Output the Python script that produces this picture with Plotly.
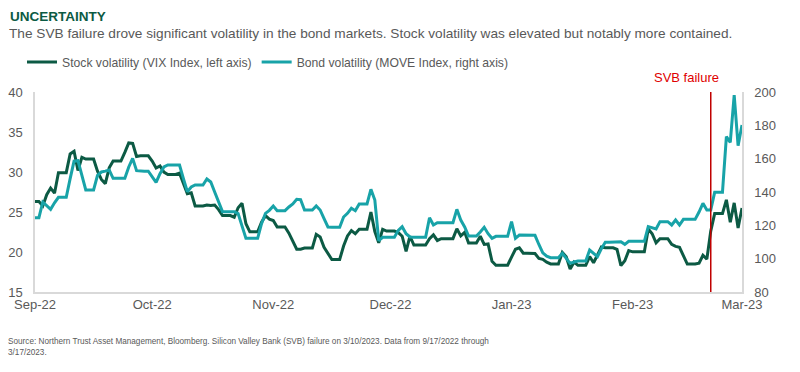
import pandas as pd
import plotly.graph_objects as go

# Calendar days 9/17/2022 (Sat) .. 3/17/2023 (Fri); each row is one week Sat..Fri
start_date = "2022-09-17"
end_date = "2023-03-17"

vix = [
    26.30, 26.30, 25.76, 27.16, 27.99, 27.35, 29.92,
    29.92, 29.92, 32.26, 32.60, 30.18, 31.84, 31.62,
    31.62, 31.62, 30.10, 29.07, 28.55, 30.52, 31.36,
    31.36, 31.36, 32.45, 33.63, 33.57, 31.94, 32.02,
    32.02, 32.02, 31.37, 30.50, 30.76, 29.98, 29.69,
    29.69, 29.69, 29.85, 28.46, 27.28, 27.39, 25.75,
    25.75, 25.75, 25.88, 25.81, 25.86, 25.30, 24.55,
    24.55, 24.55, 24.35, 25.54, 26.09, 23.53, 22.52,
    22.52, 22.52, 23.73, 24.54, 24.11, 23.93, 23.12,
    23.12, 23.12, 22.36, 21.31, 20.35, 20.35, 20.50,
    20.50, 20.50, 22.21, 21.89, 20.58, 19.84, 19.06,
    19.06, 19.06, 20.75, 22.00, 22.68, 22.29, 22.83,
    22.83, 22.83, 25.00, 22.55, 21.14, 22.83, 22.62,
    22.62, 22.62, 22.42, 21.97, 20.07, 21.97, 20.87,
    20.87, 20.87, 20.87, 21.65, 22.14, 21.44, 21.67,
    21.67, 21.67, 21.67, 22.90, 22.01, 22.46, 21.13,
    21.13, 21.13, 21.97, 20.94, 21.00, 18.83, 18.35,
    18.35, 18.35, 18.35, 19.36, 20.34, 20.52, 19.85,
    19.85, 19.85, 19.81, 19.20, 19.08, 18.73, 18.51,
    18.51, 18.51, 19.94, 19.40, 17.87, 18.73, 18.33,
    18.33, 18.33, 19.43, 18.66, 19.63, 20.63, 20.53,
    20.53, 20.53, 20.34, 18.30, 18.90, 20.17, 20.02,
    20.02, 20.02, 20.02, 22.87, 22.29, 21.14, 21.67,
    21.67, 21.67, 20.95, 20.70, 20.58, 19.63, 18.49,
    18.49, 18.49, 18.61, 19.59, 19.11, 22.61, 24.80,
    24.80, 24.80, 26.52, 23.73, 26.14, 22.99, 25.51,
]

move = [
    124.6, 124.6, 134.0, 132.0, 129.6, 133.5, 136.8,
    136.8, 136.8, 148.0, 158.5, 158.8, 150.0, 141.2,
    141.2, 141.2, 150.0, 152.0, 152.5, 153.2, 148.2,
    148.2, 148.2, 148.2, 155.0, 160.2, 152.8, 152.5,
    152.5, 152.5, 149.0, 145.8, 151.0, 155.0, 156.2,
    156.2, 156.2, 156.2, 148.0, 140.2, 143.0, 144.2,
    144.2, 144.2, 147.8, 146.0, 140.0, 134.0, 128.2,
    128.2, 128.2, 128.2, 127.0, 120.0, 112.2, 112.2,
    112.2, 112.2, 121.0, 127.2, 129.0, 131.6, 128.8,
    128.8, 128.8, 131.0, 132.8, 135.6, 135.4, 129.2,
    129.2, 129.2, 131.6, 129.2, 124.0, 119.0, 118.8,
    118.8, 118.8, 125.0, 127.2, 130.2, 128.8, 132.8,
    132.8, 132.8, 141.6, 135.2, 110.8, 112.8, 112.8,
    112.8, 112.8, 117.0, 119.2, 115.0, 113.0, 112.8,
    112.8, 112.8, 112.8, 124.6, 120.2, 121.6, 121.6,
    121.6, 121.6, 121.6, 129.6, 123.2, 119.0, 113.6,
    113.6, 113.6, 116.0, 118.8, 115.0, 112.2, 113.4,
    113.4, 113.4, 113.4, 122.2, 112.2, 114.2, 114.2,
    114.2, 114.2, 114.0, 108.5, 103.5, 101.5, 100.6,
    100.6, 100.6, 103.2, 100.0, 97.2, 98.0, 98.6,
    98.6, 98.6, 105.2, 103.0, 101.2, 106.0, 109.8,
    109.8, 109.8, 110.2, 110.2, 108.6, 110.4, 110.4,
    110.4, 110.4, 110.4, 119.2, 118.5, 117.8, 122.2,
    122.2, 122.2, 120.2, 123.2, 120.2, 123.6, 123.6,
    123.6, 123.6, 128.0, 133.2, 129.2, 129.2, 139.8,
    139.8, 139.8, 173.2, 169.8, 198.2, 167.8, 180.2,
]

tick_dates = ["2022-09-17", "2022-10-17", "2022-11-17", "2022-12-17",
              "2023-01-17", "2023-02-17", "2023-03-17"]
tick_labels = ["Sep-22", "Oct-22", "Nov-22", "Dec-22", "Jan-23", "Feb-23", "Mar-23"]
svb_marker_date = "2023-03-09"

dates = pd.date_range(start_date, end_date, freq="D")

VIX_COLOR = "#0c5a44"
MOVE_COLOR = "#18a3a8"
GREY = "#595959"
AXIS = "#d9d9d9"
FONT = "Liberation Sans, Arial, sans-serif"

fig = go.Figure()
fig.add_trace(go.Scatter(x=dates, y=vix, mode="lines",
                         name="Stock volatility (VIX Index, left axis)",
                         line=dict(color=VIX_COLOR, width=3), yaxis="y"))
fig.add_trace(go.Scatter(x=dates, y=move, mode="lines",
                         name="Bond volatility (MOVE Index, right axis)",
                         line=dict(color=MOVE_COLOR, width=3), yaxis="y2"))

fig.add_shape(type="line", xref="x", yref="paper", x0=svb_marker_date, x1=svb_marker_date,
              y0=0, y1=1, line=dict(color="#c00000", width=1.5))

L, R, T, B = 35, 58, 92, 80
pw = 800 - L - R
ph = 372 - T - B

def px(x):
    return (x - L) / pw

def py(y):
    return (372 - B - y) / ph

annotations = [
    dict(text="<b>UNCERTAINTY</b>", x=px(8), y=py(16), xref="paper", yref="paper",
         xanchor="left", yanchor="middle", showarrow=False,
         font=dict(family=FONT, size=13.5, color="#0b5a43")),
    dict(text="The SVB failure drove significant volatility in the bond markets. Stock volatility was elevated but notably more contained.",
         x=px(7), y=py(34), xref="paper", yref="paper", xanchor="left", yanchor="middle",
         showarrow=False, font=dict(family=FONT, size=13.65, color=GREY)),
    dict(text="SVB failure", x=px(686), y=py(78), xref="paper", yref="paper",
         xanchor="center", yanchor="middle", showarrow=False,
         font=dict(family=FONT, size=13, color="#e00000")),
    dict(text="Source: Northern Trust Asset Management, Bloomberg. Silicon Valley Bank (SVB) failure on 3/10/2023. Data from 9/17/2022 through<br>3/17/2023.",
         x=px(6), y=py(335), xref="paper", yref="paper", xanchor="left", yanchor="top",
         align="left", showarrow=False,
         font=dict(family=FONT, size=8.2, color=GREY)),
]

fig.update_layout(
    width=800, height=372,
    margin=dict(l=L, r=R, t=T, b=B, autoexpand=False),
    paper_bgcolor="white", plot_bgcolor="white",
    font=dict(family=FONT, size=13, color=GREY),
    showlegend=True,
    legend=dict(orientation="h", x=px(22), y=py(62), xref="paper", yref="paper",
                xanchor="left", yanchor="middle", font=dict(size=12.2, color=GREY),
                bgcolor="rgba(0,0,0,0)", itemwidth=30),
    xaxis=dict(type="date", range=[start_date, end_date], tickvals=tick_dates,
               ticktext=tick_labels, showgrid=False, zeroline=False,
               showline=True, linecolor=AXIS, linewidth=1.5, ticks="",
               tickfont=dict(size=13, color=GREY)),
    yaxis=dict(range=[15, 40], dtick=5, showgrid=False, zeroline=False,
               showline=True, linecolor=AXIS, linewidth=1.5, ticks="",
               ticklabelstandoff=8, tickfont=dict(size=13, color=GREY)),
    yaxis2=dict(range=[80, 200], dtick=20, overlaying="y", side="right",
                showgrid=False, zeroline=False, showline=True, linecolor=AXIS,
                linewidth=1.5, ticks="", ticklabelstandoff=8,
                tickfont=dict(size=13, color=GREY)),
    annotations=annotations,
)

fig.write_html("out.html", config={"displayModeBar": False},
               post_script="document.body.style.margin='0';")
